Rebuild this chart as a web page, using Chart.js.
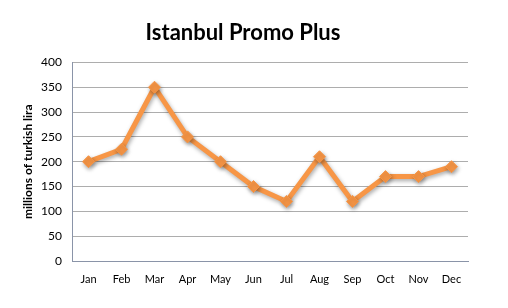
<!DOCTYPE html>
<html>
<head>
<meta charset="utf-8">
<script src="https://cdn.jsdelivr.net/npm/chart.js@4"></script>
<style>
  html, body { margin: 0; padding: 0; background: #fff; }
  #wrap { width: 508px; height: 308px; }
</style>
</head>
<body>
<div id="wrap"><canvas id="promo"></canvas></div>
<script>
const months = ['Jan', 'Feb', 'Mar', 'Apr', 'May', 'Jun', 'Jul', 'Aug', 'Sep', 'Oct', 'Nov', 'Dec'];
const revenue = [200, 225, 350, 250, 200, 150, 120, 210, 120, 170, 170, 190];
const yTicks = [0, 50, 100, 150, 200, 250, 300, 350, 400];

// ombre légère sous la ligne, comme dans Excel
const shadow = {
    id: 'shadow',
    beforeDatasetsDraw(chart) {
        const ctx = chart.ctx;
        ctx.save();
        ctx.shadowColor = 'rgba(0,0,0,0.35)';
        ctx.shadowBlur = 4;
        ctx.shadowOffsetX = 1;
        ctx.shadowOffsetY = 2;
    },
    afterDatasetsDraw(chart) {
        chart.ctx.restore();
    }
};

new Chart(document.getElementById('promo'), {
    type: 'line',
    data: {
        labels: months,
        datasets: [{
            data: revenue,
            borderColor: '#F79646',
            backgroundColor: '#F79646',
            borderWidth: 5,
            pointStyle: 'rectRot',
            pointRadius: 6,
            pointBackgroundColor: '#F79646',
            pointBorderColor: '#F79646',
            pointBorderWidth: 1,
            tension: 0,
            fill: false,
        }]
    },
    plugins: [shadow],
    options: {
        responsive: true,
        maintainAspectRatio: false,
        animation: false,
        layout: { padding: { left: 18, right: 40, top: 0, bottom: 0 } },
        plugins: {
            legend: { display: false },
            tooltip: { enabled: false },
            title: {
                display: true,
                text: 'Istanbul Promo Plus',
                color: '#000',
                font: { family: 'Lato', size: 22, weight: 'bold' },
                padding: { top: 20, bottom: 16 }
            }
        },
        scales: {
            x: {
                offset: true,
                grid: { display: false, drawTicks: false },
                border: { display: true, color: '#8A94A8', width: 1 },
                ticks: {
                    color: '#000',
                    padding: 12,
                    font: { family: 'Lato', size: 11 }
                },
                afterFit: s => { s.height = 47; }
            },
            y: {
                min: 0,
                max: 400,
                afterBuildTicks: s => { s.ticks = yTicks.map(v => ({ value: v })); },
                grid: { color: '#ADADAD', drawTicks: false },
                border: { display: true, color: '#8A94A8', width: 1 },
                ticks: {
                    color: '#000',
                    padding: 10,
                    font: { family: 'Lato', size: 12 }
                },
                title: {
                    display: true,
                    text: 'millions of turkish lira',
                    color: '#000',
                    font: { family: 'Lato', size: 12, weight: 'bold' },
                    padding: { top: 3, bottom: 4 }
                },
                afterFit: s => { s.width = 54; }
            }
        }
    }
});
</script>
</body>
</html>
